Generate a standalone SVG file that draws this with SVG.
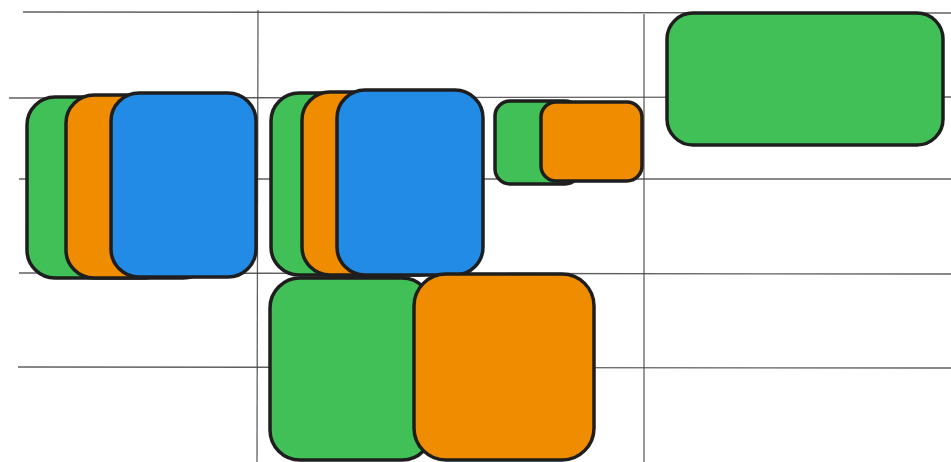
<svg xmlns="http://www.w3.org/2000/svg" width="951" height="462" viewBox="0 0 951 462">
<style>
.grid line{stroke:#444;stroke-width:1.3;opacity:0.85}
.n{stroke:#1e1e1e;stroke-width:3.5;stroke-linejoin:round}
.g{fill:#40c057}.o{fill:#f08c00}.b{fill:#228be6}
</style>
<rect width="951" height="462" fill="#ffffff"/>
<g id="grid" class="grid">
<line x1="23" y1="12" x2="951" y2="13"/>
<line x1="9" y1="98" x2="951" y2="97"/>
<line x1="19" y1="179" x2="951" y2="179"/>
<line x1="19" y1="273" x2="951" y2="274"/>
<line x1="18" y1="367" x2="951" y2="368"/>
<line x1="258" y1="10" x2="257" y2="462"/>
<line x1="644" y1="14" x2="644" y2="462"/>
</g>
<g id="node-a-green"><rect class="n g" x="27" y="97" width="145" height="181" rx="28"/></g>
<g id="node-a-orange"><rect class="n o" x="66" y="95" width="145" height="183" rx="28"/></g>
<g id="node-a-blue"><rect class="n b" x="111" y="93" width="145" height="184" rx="28"/></g>
<g id="node-b-green"><rect class="n g" x="271" y="93" width="145" height="182" rx="28"/></g>
<g id="node-b-orange"><rect class="n o" x="302" y="92" width="145" height="183" rx="28"/></g>
<g id="node-b-blue"><rect class="n b" x="337" y="90" width="146" height="185" rx="28"/></g>
<g id="node-c-green"><rect class="n g" x="495" y="101" width="85" height="83" rx="15"/></g>
<g id="node-c-orange"><rect class="n o" x="541" y="102" width="101" height="79" rx="15"/></g>
<g id="node-d-green"><rect class="n g" x="270" y="278" width="162" height="182" rx="30"/></g>
<g id="node-d-orange"><rect class="n o" x="414" y="274" width="180" height="186" rx="32"/></g>
<g id="node-e-green"><rect class="n g" x="667" y="13" width="276" height="132" rx="26"/></g>
<g id="connectors"/>
</svg>
